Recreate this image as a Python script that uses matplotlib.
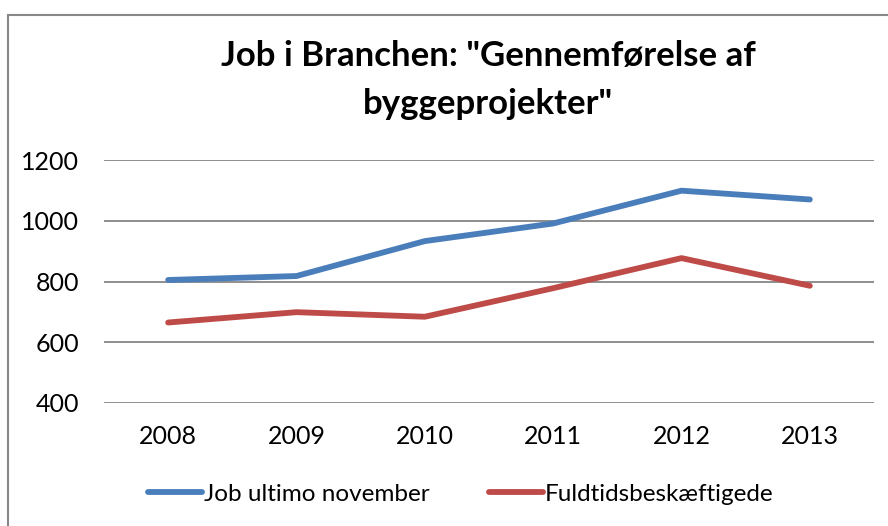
import matplotlib.pyplot as plt
from matplotlib.patches import Rectangle

years = ["2008", "2009", "2010", "2011", "2012", "2013"]
job_ultimo_nov = [805, 818, 933, 991, 1099, 1070]
fuldtid = [665, 699, 684, 778, 877, 786]
y_ticks = [400, 600, 800, 1000, 1200]

COL_BLUE = "#4A7EBB"
COL_RED = "#BE4B48"
COL_GRID = "#868686"

plt.rcParams["font.family"] = ["Lato", "DejaVu Sans"]

fig = plt.figure(figsize=(8.88, 5.26), dpi=100)
ax = fig.add_axes([104 / 888, 1 - 403 / 526, (874 - 104) / 888, (403 - 160) / 526])

x = range(len(years))
ax.plot(x, job_ultimo_nov, color=COL_BLUE, linewidth=4.2,
        solid_capstyle="round", solid_joinstyle="round", label="Job ultimo november")
ax.plot(x, fuldtid, color=COL_RED, linewidth=4.2,
        solid_capstyle="round", solid_joinstyle="round", label="Fuldtidsbeskæftigede")

ax.set_xlim(-0.5, len(years) - 0.5)
ax.set_ylim(400, 1200)
ax.set_xticks(list(x))
ax.set_xticklabels(years)
ax.set_yticks(y_ticks)
ax.tick_params(length=0, labelsize=18, colors="black")
ax.tick_params(axis="x", pad=16)
ax.tick_params(axis="y", pad=18)
ax.grid(axis="y", color=COL_GRID, linewidth=1.3)
ax.set_axisbelow(True)
for s in ax.spines.values():
    s.set_visible(False)

fig.text(0.55, 1 - 114 / 526, 'Job i Branchen: "Gennemførelse af\nbyggeprojekter"',
         ha="center", va="baseline", fontsize=25, fontweight="bold",
         multialignment="center", linespacing=1.6)

fig.legend(loc="center", bbox_to_anchor=(0.519, 1 - 494 / 526), ncol=2,
           frameon=False, fontsize=17.5, handlelength=2.2, handletextpad=0.1,
           columnspacing=2.45)

# chart frame (Excel-style border, cropped at right and bottom)
fig.patches.append(Rectangle((8 / 888, -0.05), 1.1, 1 - 15 / 526 + 0.05,
                             transform=fig.transFigure, fill=False,
                             edgecolor="#888888", linewidth=1.5))

fig.savefig("out.png", dpi=100)
